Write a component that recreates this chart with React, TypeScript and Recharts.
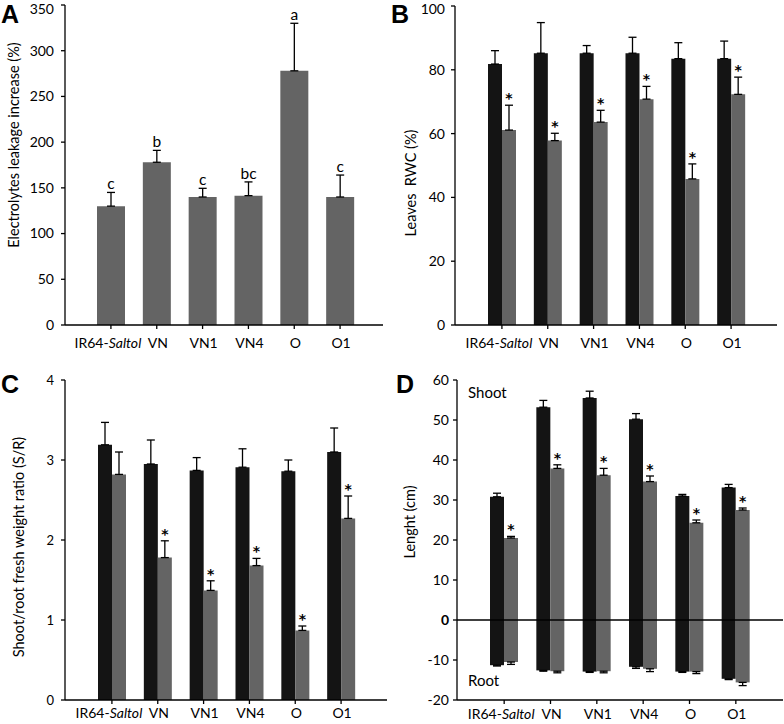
import React from 'react';
import { BarChart, Bar, XAxis, YAxis, ErrorBar, LabelList, ReferenceLine, Label } from 'recharts';

// ---------- data ----------
const categories = ['IR64-Saltol', 'VN', 'VN1', 'VN4', 'O', 'O1'];

// A: electrolytes leakage increase (%)
const leakage = [130, 178, 140, 141.5, 278, 140];
const leakageErr = [15, 13, 9.5, 15, 52, 24];
const leakageLetters = ['c', 'b', 'c', 'bc', 'a', 'c'];

// B: leaves RWC (%)
const rwcControl = [81.8, 85.2, 85.2, 85.2, 83.5, 83.5];
const rwcControlErr = [4.2, 9.6, 2.4, 5, 5, 5.5];
const rwcSalt = [61.1, 57.8, 63.6, 70.8, 45.8, 72.3];
const rwcSaltErr = [7.8, 2.3, 3.7, 4, 4.7, 5.4];
const rwcStars = ['*', '*', '*', '*', '*', '*'];

// C: shoot/root fresh weight ratio
const srControl = [3.19, 2.95, 2.87, 2.91, 2.86, 3.1];
const srControlErr = [0.28, 0.3, 0.16, 0.23, 0.14, 0.3];
const srSalt = [2.82, 1.78, 1.37, 1.68, 0.87, 2.27];
const srSaltErr = [0.28, 0.21, 0.12, 0.09, 0.055, 0.28];
const srStars = ['', '*', '*', '*', '*', '*'];

// D: length (cm)
const shootControl = [30.8, 53.2, 55.5, 50.2, 31.0, 33.1];
const shootControlErr = [0.9, 1.7, 1.7, 1.4, 0.4, 0.8];
const shootSalt = [20.5, 37.9, 36.2, 34.6, 24.3, 27.5];
const shootSaltErr = [0.4, 0.9, 1.7, 1.4, 0.7, 0.5];
const rootControl = [-11.3, -12.6, -12.9, -11.7, -12.9, -14.7];
const rootControlErr = [0.2, 0.2, 0.2, 0.4, 0.2, 0.2];
const rootSalt = [-10.5, -12.8, -12.8, -12.2, -12.9, -15.6];
const rootSaltErr = [0.6, 0.4, 0.4, 0.7, 0.5, 0.8];
const lengthStars = ['*', '*', '*', '*', '*', '*'];

const ticksA = [0, 50, 100, 150, 200, 250, 300, 350];
const ticksB = [0, 20, 40, 60, 80, 100];
const ticksC = [0, 1, 2, 3, 4];
const ticksD = [-20, -10, 0, 10, 20, 30, 40, 50, 60];

// ---------- tables ----------
const dataA = categories.map((name, i) => ({ name, v: leakage[i], e: [0, leakageErr[i]] }));
const dataB = categories.map((name, i) => ({
  name,
  c: rwcControl[i], ce: [0, rwcControlErr[i]],
  s: rwcSalt[i], se: [0, rwcSaltErr[i]],
}));
const dataC = categories.map((name, i) => ({
  name,
  c: srControl[i], ce: [0, srControlErr[i]],
  s: srSalt[i], se: [0, srSaltErr[i]],
}));
const dataD = categories.map((name, i) => ({
  name,
  sc: shootControl[i], sce: [0, shootControlErr[i]],
  ss: shootSalt[i], sse: [0, shootSaltErr[i]],
  rc: rootControl[i], rce: [rootControlErr[i], 0],
  rs: rootSalt[i], rse: [rootSaltErr[i], 0],
}));

// ---------- style ----------
const FONT = 'Lato, "Noto Sans", sans-serif';
const BLACK = '#141414';
const GRAY = '#646464';
const AX = { stroke: '#000', strokeWidth: 1.3 };

const CatTick = (p: any) => {
  const { x, y, payload, dy } = p;
  const v: string = payload.value;
  const isFirst = v === 'IR64-Saltol';
  const parts: [string, boolean][] = isFirst ? [['IR64-', false], ['Saltol', true]] : [[v, false]];
  return (
    <text x={x + (isFirst ? -3 : 1)} y={y + dy} textAnchor="middle" fontFamily={FONT} fontSize={14} fill="#000">
      {parts.map(([t, it], k) => (
        <tspan key={k} fontStyle={it ? 'italic' : 'normal'}>{t}</tspan>
      ))}
    </text>
  );
};

const NumTick = (p: any) => {
  const { x, y, payload, fs, boldZero } = p;
  const bold = boldZero && payload.value === 0;
  return (
    <text x={x} y={y} dy="0.35em" textAnchor="end" fontFamily={FONT} fontSize={fs} fontWeight={bold ? 700 : 400} fill="#000">
      {payload.value}
    </text>
  );
};

const topLabel = (labels: string[], errs: number[], fs: number, bold: boolean, gap: number, family: string) => (p: any) => {
  const i = p.index;
  const text = labels[i];
  if (!text) return null;
  const vb = p.viewBox || p;
  const value = Number(p.value);
  const ppu = vb.height / value;
  const topY = vb.y - errs[i] * ppu;
  return (
    <text x={vb.x + vb.width / 2} y={topY - gap} textAnchor="middle" fontFamily={family} fontSize={fs} fontWeight={bold ? 700 : 400} fill="#000" stroke="none">
      {text}
    </text>
  );
};

const yTitle = (text: string, cx: number, cy: number) => () => (
  <text transform={`translate(${cx},${cy}) rotate(-90)`} textAnchor="middle" dominantBaseline="central" fontFamily={FONT} fontSize={14.5} fill="#000" style={{ whiteSpace: 'pre' }}>
    {text}
  </text>
);

const EB = (key: string) => <ErrorBar dataKey={key} width={4} stroke="#000" strokeWidth={1.3} direction="y" />;

const STAR_FONT = '"DejaVu Sans", sans-serif';

export default function App() {
  return (
    <div style={{ position: 'absolute', left: 0, top: 0, width: 784, height: 724, background: '#fff' }}>
      {/* A */}
      <div style={{ position: 'absolute', left: 0, top: 0 }}>
        <BarChart width={392} height={360} data={dataA} margin={{ top: 5, right: 9, left: 0, bottom: 5 }}>
          <XAxis dataKey="name" axisLine={AX} tickLine={AX} tickSize={4} height={30} padding={{ left: 23, right: 20 }} interval={0}
            tick={(p: any) => <CatTick {...p} dy={17} />} />
          <YAxis domain={[0, 350]} ticks={ticksA} width={65} axisLine={AX} tickLine={AX} tickSize={4} tickMargin={7}
            tick={(p: any) => <NumTick {...p} fs={14} />}>
            <Label content={yTitle('Electrolytes leakage increase (%)', 13, 145)} />
          </YAxis>
          <Bar dataKey="v" fill={GRAY} barSize={28} isAnimationActive={false}>
            {EB('e')}
            <LabelList dataKey="v" content={topLabel(leakageLetters, leakageErr, 15.5, false, 3, FONT)} />
          </Bar>
        </BarChart>
      </div>
      {/* B */}
      <div style={{ position: 'absolute', left: 390, top: 0 }}>
        <BarChart width={394} height={360} data={dataB} barGap={0} margin={{ top: 6, right: 7, left: 0, bottom: 5 }}>
          <XAxis dataKey="name" axisLine={AX} tickLine={AX} tickSize={4} height={30} padding={{ left: 24, right: 23 }} interval={0}
            tick={(p: any) => <CatTick {...p} dy={17} />} />
          <YAxis domain={[0, 100]} ticks={ticksB} width={65} axisLine={AX} tickLine={AX} tickSize={4} tickMargin={6}
            tick={(p: any) => <NumTick {...p} fs={14} />}>
            <Label content={yTitle('Leaves  RWC (%)', 20, 183)} />
          </YAxis>
          <Bar dataKey="c" fill={BLACK} barSize={14} isAnimationActive={false}>
            {EB('ce')}
          </Bar>
          <Bar dataKey="s" fill={GRAY} barSize={14} isAnimationActive={false}>
            {EB('se')}
            <LabelList dataKey="s" content={topLabel(rwcStars, rwcSaltErr, 14, true, 2, STAR_FONT)} />
          </Bar>
        </BarChart>
      </div>
      {/* C */}
      <div style={{ position: 'absolute', left: 0, top: 360 }}>
        <BarChart width={392} height={364} data={dataC} barGap={0} margin={{ top: 20, right: 5, left: 0, bottom: 0 }}>
          <XAxis dataKey="name" axisLine={AX} tickLine={AX} tickSize={4} height={24} padding={{ left: 24, right: 23 }} interval={0}
            tick={(p: any) => <CatTick {...p} dy={12} />} />
          <YAxis domain={[0, 4]} ticks={ticksC} width={65} axisLine={AX} tickLine={AX} tickSize={4} tickMargin={7}
            tick={(p: any) => <NumTick {...p} fs={13} />}>
            <Label content={yTitle('Shoot/root fresh weight ratio (S/R)', 18, 187)} />
          </YAxis>
          <Bar dataKey="c" fill={BLACK} barSize={14} isAnimationActive={false}>
            {EB('ce')}
          </Bar>
          <Bar dataKey="s" fill={GRAY} barSize={14} isAnimationActive={false}>
            {EB('se')}
            <LabelList dataKey="s" content={topLabel(srStars, srSaltErr, 14, true, 2, STAR_FONT)} />
          </Bar>
        </BarChart>
      </div>
      {/* D */}
      <div style={{ position: 'absolute', left: 390, top: 360 }}>
        <BarChart width={394} height={364} data={dataD} barGap={0} margin={{ top: 20, right: 1, left: 0, bottom: 0 }}>
          <XAxis xAxisId="a" dataKey="name" axisLine={AX} tickLine={AX} tickSize={4} height={24} padding={{ left: 24, right: 24 }} interval={0}
            tick={(p: any) => <CatTick {...p} dy={13} />} />
          <XAxis xAxisId="b" dataKey="name" hide height={0} padding={{ left: 24, right: 24 }} />
          <YAxis domain={[-20, 60]} ticks={ticksD} width={67} axisLine={AX} tickLine={AX} tickSize={4} tickMargin={4}
            tick={(p: any) => <NumTick {...p} fs={14} boldZero />}>
            <Label content={yTitle('Lenght (cm)', 19, 162)} />
          </YAxis>
          <ReferenceLine xAxisId="a" y={0} stroke="#000" strokeWidth={1.3} />
          <Bar xAxisId="a" dataKey="sc" fill={BLACK} barSize={14} isAnimationActive={false}>
            {EB('sce')}
          </Bar>
          <Bar xAxisId="a" dataKey="ss" fill={GRAY} barSize={14} isAnimationActive={false}>
            {EB('sse')}
            <LabelList dataKey="ss" content={topLabel(lengthStars, shootSaltErr, 14, true, 2, STAR_FONT)} />
          </Bar>
          <Bar xAxisId="b" dataKey="rc" fill={BLACK} barSize={14} isAnimationActive={false}>
            {EB('rce')}
          </Bar>
          <Bar xAxisId="b" dataKey="rs" fill={GRAY} barSize={14} isAnimationActive={false}>
            {EB('rse')}
          </Bar>
        </BarChart>
      </div>
      {/* overlay texts */}
      <svg width={784} height={724} style={{ position: 'absolute', left: 0, top: 0, pointerEvents: 'none' }}>
        <g fontFamily='"Liberation Sans", Arial, sans-serif' fontWeight={700} fontSize={25} fill="#000">
          <text x={1} y={23}>A</text>
          <text x={391} y={23}>B</text>
          <text x={1} y={393}>C</text>
          <text x={396} y={393}>D</text>
        </g>
        <g fontFamily={FONT} fontSize={15} fill="#000">
          <text x={468} y={398}>Shoot</text>
          <text x={468} y={686}>Root</text>
        </g>
      </svg>
    </div>
  );
}
